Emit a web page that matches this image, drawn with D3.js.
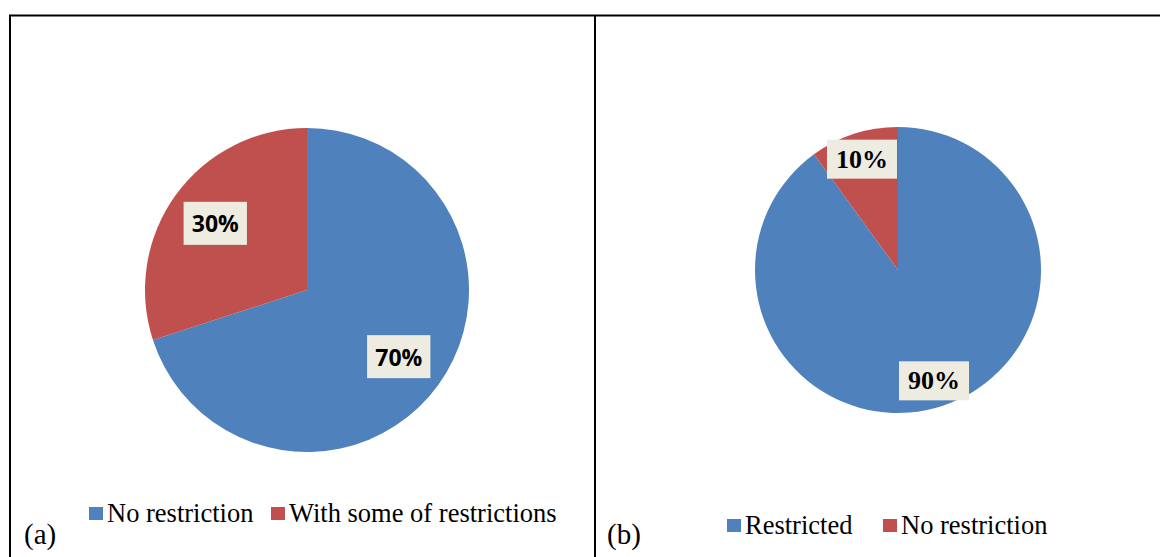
<!DOCTYPE html>
<html>
<head>
<meta charset="utf-8">
<script src="https://cdn.jsdelivr.net/npm/d3@7/dist/d3.min.js"></script>
<style>
  html, body { margin: 0; padding: 0; background: #fff; }
  svg { display: block; }
</style>
</head>
<body>
<svg id="chart" width="1160" height="557"></svg>
<script>
// Panel (a): travel restriction shares
const categoriesA = ["No restriction", "With some of restrictions"];
const valuesA = [70, 30];
const labelsA = ["70%", "30%"];

// Panel (b)
const categoriesB = ["Restricted", "No restriction"];
const valuesB = [90, 10];
const labelsB = ["90%", "10%"];

const colors = ["#4F81BD", "#C0504D"];
const labelBoxFill = "#EEECE1";
const serif = "'Liberation Serif', 'Times New Roman', serif";

const svg = d3.select("#chart");

// Table frame
const frame = svg.append("g").attr("stroke", "#000").attr("stroke-width", 2).attr("fill", "none");
frame.append("line").attr("x1", 9).attr("x2", 1160).attr("y1", 15.5).attr("y2", 15.5);
frame.append("line").attr("x1", 10).attr("x2", 10).attr("y1", 15).attr("y2", 557);
frame.append("line").attr("x1", 595).attr("x2", 595).attr("y1", 15).attr("y2", 557);

const pie = d3.pie().sort(null).value(d => d);

function drawPanel(opts) {
  const g = svg.append("g").attr("transform", `translate(${opts.cx},${opts.cy})`);
  const arcs = pie(opts.values);
  const arc = d3.arc().innerRadius(0).outerRadius(opts.r);
  const labelArc = d3.arc().innerRadius(opts.r * opts.labelPos).outerRadius(opts.r * opts.labelPos);

  g.selectAll("path.slice").data(arcs).join("path")
    .attr("class", "slice")
    .attr("d", arc)
    .attr("fill", (d, i) => colors[i]);

  const lab = g.selectAll("g.lab").data(arcs).join("g")
    .attr("class", "lab")
    .attr("transform", d => `translate(${labelArc.centroid(d)})`);

  lab.each(function(d, i) {
    const sel = d3.select(this);
    const rect = sel.append("rect").attr("fill", labelBoxFill);
    const t = sel.append("text")
      .attr("text-anchor", "middle")
      .attr("dominant-baseline", "central")
      .attr("font-family", opts.labelFont)
      .attr("font-weight", "bold")
      .attr("font-size", opts.labelSize)
      .attr("fill", "#000")
      .text(opts.labels[i]);
    const bb = t.node().getBBox();
    const w = bb.width + opts.padX * 2, h = opts.boxH;
    rect.attr("x", -w / 2).attr("y", -h / 2).attr("width", w).attr("height", h);
  });

  // Legend
  const leg = svg.append("g").attr("transform", `translate(${opts.legX},${opts.legY})`);
  opts.categories.forEach((c, i) => {
    const item = leg.append("g").attr("transform", `translate(${i * opts.legStep},0)`);
    item.append("rect").attr("x", 0).attr("y", -15).attr("width", 14).attr("height", 13).attr("fill", colors[i]);
    item.append("text").attr("x", 18).attr("y", 0)
      .attr("font-family", serif)
      .attr("font-size", 26.5).attr("fill", "#000").text(c);
  });

  svg.append("text").attr("x", opts.tagX).attr("y", 544)
    .attr("font-family", serif)
    .attr("font-size", 29).attr("fill", "#000").text(opts.tag);
}

drawPanel({
  cx: 307, cy: 290, r: 162, values: valuesA, labels: labelsA, categories: categoriesA,
  labelPos: 0.7, labelFont: "'Open Sans', 'Noto Sans', sans-serif", labelSize: 23, padX: 8, boxH: 43,
  legX: 89, legY: 522, legStep: 182, tag: "(a)", tagX: 24
});

drawPanel({
  cx: 898, cy: 270, r: 143, values: valuesB, labels: labelsB, categories: categoriesB,
  labelPos: 0.815, labelFont: serif, labelSize: 26, padX: 9, boxH: 39,
  legX: 727, legY: 534, legStep: 156, tag: "(b)", tagX: 607
});
</script>
</body>
</html>
